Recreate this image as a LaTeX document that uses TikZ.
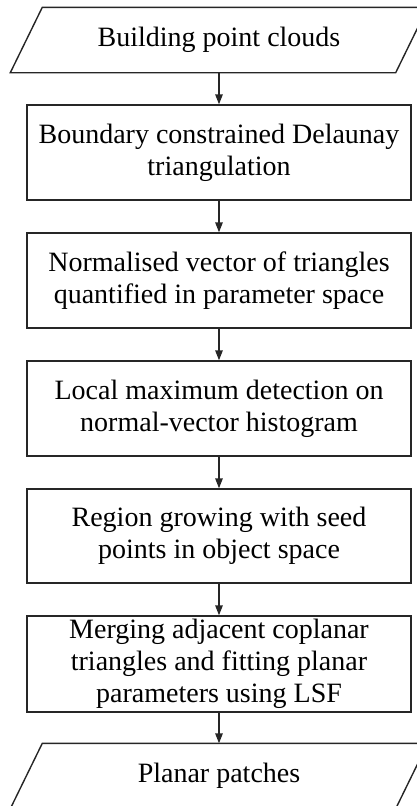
\documentclass[tikz,border=0pt]{standalone}
\usepackage{fontspec}
\setmainfont{Liberation Serif}
\usetikzlibrary{arrows.meta}
\begin{document}
\begin{tikzpicture}[x=1pt,y=-1pt,
  line width=1.4pt,
  every node/.style={font=\fontsize{28}{32}\selectfont, align=center, inner sep=0pt},
  stepbox/.style={draw=black!85, minimum width=384pt},
  iobox/.style={minimum width=384pt, minimum height=64pt},
  flow/.style={draw=black!85, -{Triangle[width=7.5pt,length=10pt]}}]
\useasboundingbox (0,0) rectangle (417,806);
\node[iobox] (in) at (219,40) {Building point clouds};
\node[stepbox, minimum height=95pt] (b1) at (219,152.5) {Boundary constrained Delaunay\\triangulation};
\node[stepbox, minimum height=95pt] (b2) at (219,280.5) {Normalised vector of triangles\\quantified in parameter space};
\node[stepbox, minimum height=95pt] (b3) at (219,408.5) {Local maximum detection on\\normal-vector histogram};
\node[stepbox, minimum height=94pt] (b4) at (219,536) {Region growing with seed\\points in object space};
\node[stepbox, minimum height=96pt] (b5) at (219,664) {Merging adjacent coplanar\\triangles and fitting planar\\parameters using LSF};
\node[iobox] (out) at (219,776) {Planar patches};
\draw[draw=black!85] ([xshift=16pt]in.north west) -- ([xshift=16pt]in.north east) -- ([xshift=-16pt]in.south east) -- ([xshift=-16pt]in.south west) -- cycle;
\draw[draw=black!85] ([xshift=16pt]out.north west) -- ([xshift=16pt]out.north east) -- ([xshift=-16pt]out.south east) -- ([xshift=-16pt]out.south west) -- cycle;
\draw[flow] (in.south) -- (b1.north);
\draw[flow] (b1.south) -- (b2.north);
\draw[flow] (b2.south) -- (b3.north);
\draw[flow] (b3.south) -- (b4.north);
\draw[flow] (b4.south) -- (b5.north);
\draw[flow] (b5.south) -- (out.north);
\end{tikzpicture}
\end{document}
